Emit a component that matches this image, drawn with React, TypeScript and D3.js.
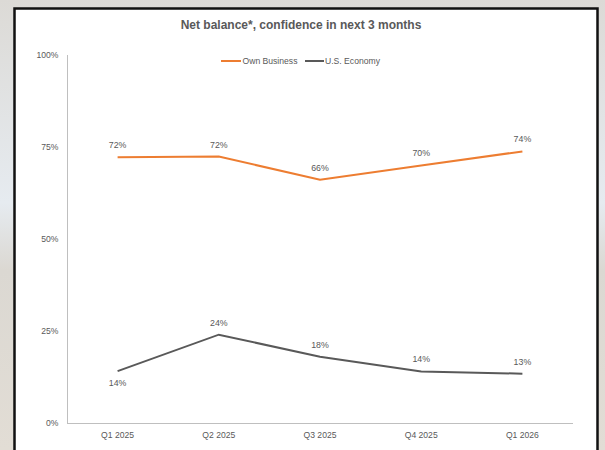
import React from "react";
import * as d3 from "d3";

const categories = ["Q1 2025", "Q2 2025", "Q3 2025", "Q4 2025", "Q1 2026"];
const ownBusiness = [72.2, 72.4, 66.1, 70.0, 73.8];
const usEconomy = [14.1, 24.0, 18.0, 14.0, 13.4];
const yTicks = [0, 25, 50, 75, 100];
const title = "Net balance*, confidence in next 3 months";
const seriesNames = ["Own Business", "U.S. Economy"];

const W = 605;
const H = 450;
const ORANGE = "#ED7D31";
const GRAY = "#595959";
const TXT = "#595959";

export default function App() {
  const x = d3.scaleBand<string>().domain(categories).range([67, 573]);
  const y = d3.scaleLinear().domain([0, 100]).range([423, 55]);
  const cx = (c: string) => (x(c) as number) + x.bandwidth() / 2;
  const line = d3
    .line<number>()
    .x((_, i) => cx(categories[i]))
    .y((d) => y(d));

  const series = [
    { name: seriesNames[0], values: ownBusiness, color: ORANGE, below: [] as number[] },
    { name: seriesNames[1], values: usEconomy, color: GRAY, below: [0] },
  ];

  return (
    <svg
      width={W}
      height={H}
      style={{ position: "absolute", left: 0, top: 0, fontFamily: "Liberation Sans, Arial, sans-serif" }}
    >
      <defs>
        <linearGradient id="bg" x1="0" y1="0" x2="0" y2="1">
          <stop offset="0" stopColor="#dcdad6" />
          <stop offset="0.45" stopColor="#e6ebf0" />
          <stop offset="0.6" stopColor="#dbd8d2" />
          <stop offset="1" stopColor="#e2ddd5" />
        </linearGradient>
      </defs>
      <rect x={0} y={0} width={W} height={H} fill="url(#bg)" />
      <rect x={14.5} y={8.5} width={583} height={460} fill="#ffffff" stroke="#111" strokeWidth={2.5} />

      <text x={301} y={29} textAnchor="middle" fontSize={12} fontWeight="bold" fill={TXT}>
        {title}
      </text>

      {/* legend */}
      <line x1={221} x2={241} y1={61} y2={61} stroke={ORANGE} strokeWidth={2} />
      <text x={242.5} y={64} fontSize={8.6} fill={TXT}>{seriesNames[0]}</text>
      <line x1={305} x2={324} y1={61} y2={61} stroke={GRAY} strokeWidth={2} />
      <text x={325} y={64} fontSize={8.6} fill={TXT}>{seriesNames[1]}</text>

      {/* axes */}
      <line x1={67.5} x2={67.5} y1={y(100)} y2={y(0)} stroke="#bfbfbf" strokeWidth={1} />
      <line x1={67} x2={573} y1={y(0) + 0.5} y2={y(0) + 0.5} stroke="#bfbfbf" strokeWidth={1} />
      {yTicks.map((t) => (
        <text key={t} x={58.5} y={y(t) + 3} textAnchor="end" fontSize={8.6} fill={TXT}>
          {t}%
        </text>
      ))}
      {categories.map((c) => (
        <text key={c} x={cx(c)} y={437.5} textAnchor="middle" fontSize={8.6} fill={TXT}>
          {c}
        </text>
      ))}

      {series.map((s) => (
        <g key={s.name}>
          <path d={line(s.values) || ""} fill="none" stroke={s.color} strokeWidth={2} />
          {s.values.map((v, i) => (
            <text
              key={i}
              x={cx(categories[i])}
              y={s.below.includes(i) ? y(v) + 15 : y(v) - 9}
              textAnchor="middle"
              fontSize={8.8}
              fill={TXT}
            >
              {Math.round(v)}%
            </text>
          ))}
        </g>
      ))}
    </svg>
  );
}
